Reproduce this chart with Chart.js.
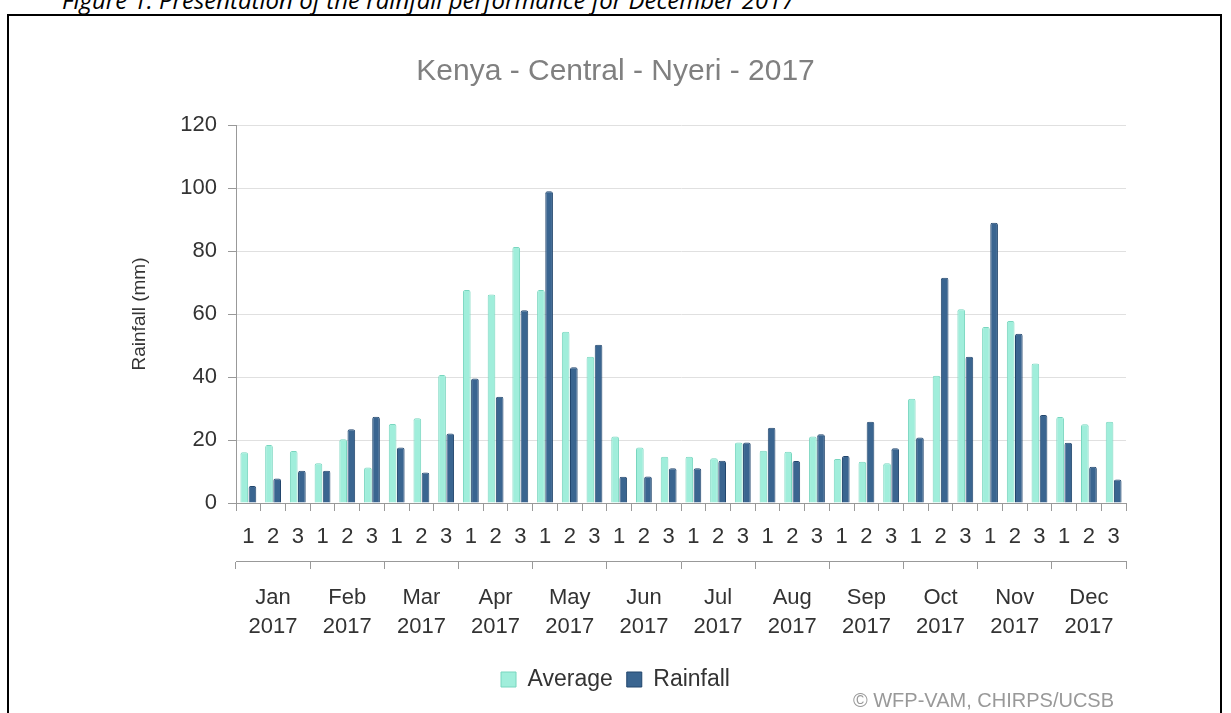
<!DOCTYPE html>
<html><head><meta charset="utf-8">
<script src="https://cdn.jsdelivr.net/npm/chart.js@4/dist/chart.umd.min.js"></script>
<style>
html,body{margin:0;padding:0;background:#fff;width:1231px;height:713px;overflow:hidden;}
#caption{position:absolute;left:62px;top:-13px;font-family:"Open Sans",sans-serif;font-style:italic;font-size:24px;color:#000;white-space:nowrap;line-height:26px;}
#box{position:absolute;left:7px;top:14px;width:1215px;height:740px;border:2px solid #000;box-sizing:border-box;}
#wrap{position:absolute;left:0;top:0;width:1231px;height:713px;}
#footer{position:absolute;right:117px;top:689px;font-family:"Liberation Sans",Arial,sans-serif;font-size:20px;line-height:23px;color:#999;white-space:nowrap;}
</style></head><body>
<div id="caption">Figure 1: Presentation of the rainfall performance for December 2017</div>
<div id="box"></div>
<div id="wrap"><canvas id="c" width="1231" height="713"></canvas></div>
<div id="footer">© WFP-VAM, CHIRPS/UCSB</div>
<script>
const months = ['Jan','Feb','Mar','Apr','May','Jun','Jul','Aug','Sep','Oct','Nov','Dec'];
const year = '2017';
const dekads = ['1','2','3'];
const average = [16.1,18.4,16.5, 12.6,20.2,11.3, 25.1,26.9,40.6, 67.6,66.2,81.3, 67.6,54.4,46.4, 21.1,17.6,14.7, 14.7,14.2,19.2, 16.6,16.3,21.1, 14.0,13.1,12.6, 33.1,40.4,61.5, 55.9,57.8,44.3, 27.3,25.0,25.8];
const rainfall = [5.4,7.8,10.2, 10.2,23.4,27.4, 17.6,9.7,22.1, 39.5,33.7,61.2, 99.0,43.1,50.2, 8.3,8.4,11.0, 11.0,13.4,19.2, 23.9,13.3,21.8, 14.9,25.8,17.4, 20.8,71.5,46.4, 89.0,53.7,27.9, 19.1,11.5,7.5];
const yTicks = {min:0, max:120, step:20};
const title = 'Kenya - Central - Nyeri - 2017';
const yTitle = 'Rainfall (mm)';

const dekadLabels = [];
months.forEach(() => dekads.forEach(d => dekadLabels.push(d)));
const monthLabels = months.map(m => [m, year]);

const FF = '"Liberation Sans", Arial, sans-serif';
const axisFont = {family: FF, size: 22};

new Chart(document.getElementById('c'), {
  type: 'bar',
  data: {
    labels: dekadLabels,
    datasets: [
      {label: 'Average', data: average, backgroundColor: '#a0eedb', borderColor: '#78d6bf', borderWidth: 1,
       borderRadius: {topLeft: 2, topRight: 2}, borderSkipped: 'bottom', categoryPercentage: 0.66, barPercentage: 0.94, xAxisID: 'x', yAxisID: 'y'},
      {label: 'Rainfall', data: rainfall, backgroundColor: '#3a6590', borderColor: '#22466d', borderWidth: 1,
       borderRadius: {topLeft: 2, topRight: 2}, borderSkipped: 'bottom', categoryPercentage: 0.66, barPercentage: 0.94, xAxisID: 'x', yAxisID: 'y'}
    ]
  },
  options: {
    responsive: false,
    animation: false,
    devicePixelRatio: 1,
    layout: {padding: {left: 0, right: 0, top: 0, bottom: 12}},
    plugins: {
      title: {display: true, text: title, color: '#808080', font: {family: FF, size: 30, weight: 'normal'}, padding: {top: 54, bottom: 35}},
      legend: {position: 'bottom', labels: {font: {family: FF, size: 23}, color: '#333', boxWidth: 15, boxHeight: 15, padding: 14}},
      tooltip: {enabled: false}
    },
    scales: {
      x: {
        type: 'category', position: 'bottom', weight: 0, offset: true,
        grid: {offset: true, drawOnChartArea: false, tickLength: 8, color: '#999'},
        border: {color: '#999'},
        ticks: {font: axisFont, color: '#333', padding: 13, maxRotation: 0, autoSkip: false},
        afterFit(s) { s.height = 58; }
      },
      x2: {
        type: 'category', position: 'bottom', weight: 1, offset: true, labels: monthLabels,
        grid: {offset: true, drawOnChartArea: false, tickLength: 8, color: '#999'},
        border: {color: '#999'},
        ticks: {font: {family: FF, size: 22, lineHeight: '29px'}, color: '#333', padding: 14, maxRotation: 0, autoSkip: false},
        afterFit(s) { s.height = 93; }
      },
      y: {
        position: 'left', min: yTicks.min, max: yTicks.max,
        ticks: {stepSize: yTicks.step, font: axisFont, color: '#333', padding: 11},
        grid: {color: '#e0e0e0', tickColor: '#999', tickLength: 8},
        border: {color: '#999'},
        title: {display: true, text: yTitle, color: '#333', font: {family: FF, size: 19}, padding: {top: 128, bottom: 0}},
        afterFit(s) { s.width = 236; }
      },
      yr: {
        position: 'right', display: true,
        grid: {display: false}, ticks: {display: false}, border: {display: false},
        afterFit(s) { s.width = 105; }
      }
    }
  }
});
</script>
</body></html>
